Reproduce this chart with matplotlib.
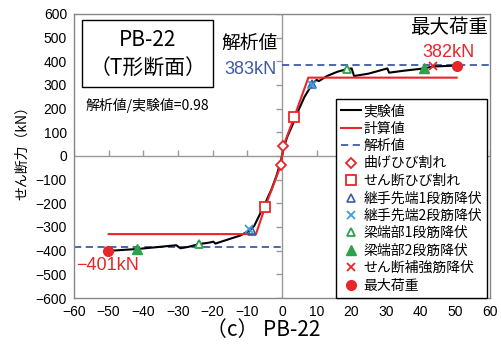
import numpy as np
import matplotlib
matplotlib.use("Agg")
import matplotlib.pyplot as plt
from matplotlib.patches import Rectangle

plt.rcParams['font.family'] = ['Noto Sans CJK JP', 'DejaVu Sans']

exp_x = [-50.3, -46, -41.8, -36, -30.5, -29.3, -27, -23.9, -21, -19.8, -19.2, -15, -12,
         -9.4, -8, -6.5, -5, -3, -1.5, -0.5, 0, 0.5, 1.5, 3, 4.5, 6.5, 8.7, 10, 10.6,
         13, 16, 18.7, 20.1, 20.8, 25, 30.4, 30.9, 35, 41, 43.5, 50.4]
exp_y = [-401, -397, -393, -385, -377, -390, -384, -372, -366, -362, -370, -350, -336,
         -315, -295, -250, -205, -140, -80, -30, 0, 35, 80, 130, 185, 250, 303, 322, 316,
         338, 356, 367, 370, 338, 348, 370, 352, 360, 370, 378, 382]

# calculated curve
calc_x = [-50, -7.5, -4.9, -0.3, 0.4, 3.5, 7.6, 50.4]
calc_y = [-330, -330, -217, -38, 42, 163, 331, 331]

# analysis value
ana_val = 383

# event markers
flex_x, flex_y = [-0.3, 0.4], [-38, 42]
shear_x, shear_y = [-4.9, 3.5], [-217, 163]
joint1_x, joint1_y = [-8.7, 8.8], [-317, 305]
joint2_x, joint2_y = [-9.4, 8.6], [-308, 300]
beam1_x, beam1_y = [-23.9, 18.7], [-372, 367]
beam2_x, beam2_y = [-41.8, 41], [-393, 370]
stir_x, stir_y = [43.5], [381]
max_x, max_y = [-50.3, 50.4], [-401, 382]

xticks = np.arange(-60, 61, 10)
yticks = np.arange(-600, 601, 100)

red = '#e8262a'
blue = '#3f5aa8'
lblue = '#3aa0e0'
green = '#2ca24a'

fig = plt.figure(figsize=(5.02, 3.47), dpi=100)
ax = fig.add_axes([0.1474, 0.1412, 0.8286, 0.8185])

# zero axes with tick marks
ax.axhline(0, color='#999999', lw=1, zorder=1)
ax.axvline(0, color='#999999', lw=1, zorder=1)
ax.plot(xticks, np.zeros_like(xticks), ls='none', marker=2, ms=4, mew=1, color='#999999', zorder=1)
ax.plot(np.zeros_like(yticks), yticks, ls='none', marker=0, ms=4, mew=1, color='#999999', zorder=1)

ax.plot(exp_x, exp_y, color='black', lw=1.5, label='実験値', zorder=3)
ax.plot(calc_x, calc_y, color=red, lw=1.5, label='計算値', zorder=3)
ax.plot([0, 60], [ana_val, ana_val], color=blue, lw=1.3, ls=(0, (4, 2.5)), label='解析値', zorder=2)
ax.plot([-60, 0], [-ana_val, -ana_val], color=blue, lw=1.3, ls=(0, (4, 2.5)), zorder=2)

ax.plot(flex_x, flex_y, ls='none', marker='D', ms=5, mfc='white', mec=red, mew=1.3, label='曲げひび割れ', zorder=4)
ax.plot(shear_x, shear_y, ls='none', marker='s', ms=7, mfc='white', mec=red, mew=1.3, label='せん断ひび割れ', zorder=4)
ax.plot(joint1_x, joint1_y, ls='none', marker='^', ms=6, mfc='none', mec=blue, mew=1.2, label='継手先端1段筋降伏', zorder=4)
ax.plot(joint2_x, joint2_y, ls='none', marker='x', ms=6, mec=lblue, mew=1.3, label='継手先端2段筋降伏', zorder=4)
ax.plot(beam1_x, beam1_y, ls='none', marker='^', ms=6, mfc='white', mec=green, mew=1.3, label='梁端部1段筋降伏', zorder=4)
ax.plot(beam2_x, beam2_y, ls='none', marker='^', ms=7, color=green, label='梁端部2段筋降伏', zorder=4)
ax.plot(stir_x, stir_y, ls='none', marker='x', ms=6, mec=red, mew=1.3, label='せん断補強筋降伏', zorder=4)
ax.plot(max_x, max_y, ls='none', marker='o', ms=7, color=red, label='最大荷重', zorder=4)

ax.set_xlim(-60, 60)
ax.set_ylim(-600, 600)
ax.set_xticks(xticks)
ax.set_yticks(yticks)
ax.tick_params(length=0, labelsize=10, pad=5)
for lab in ax.get_xticklabels() + ax.get_yticklabels():
    lab.set_family('Liberation Sans')
for sp in ax.spines.values():
    sp.set_color('#888888')
    sp.set_linewidth(1)

leg = ax.legend(loc='upper right', bbox_to_anchor=(0.993, 0.70), borderaxespad=0,
                fontsize=10, frameon=True, fancybox=False, framealpha=1,
                edgecolor='black', handlelength=1.4, handletextpad=0.2,
                labelspacing=0.25, borderpad=0.35)
leg.get_frame().set_linewidth(1)

# annotation box
ax.add_patch(Rectangle((-57.7, 291.5), 37.8, 283.5, fc='white', ec='black', lw=1, zorder=5))
ax.text(-38.8, 490, 'PB-22', ha='center', va='center', fontsize=15, zorder=6)
ax.text(-38.8, 368, '（T形断面）', ha='center', va='center', fontsize=15, zorder=6)
ax.text(-56.8, 215, '解析値/実験値=0.98', ha='left', va='center', fontsize=10)

ax.text(-9.5, 477, '解析値', ha='center', va='center', fontsize=13.5)
ax.text(-9.2, 365, '383kN', ha='center', va='center', fontsize=13, color=blue, family='Liberation Sans')
ax.text(48.2, 545, '最大荷重', ha='center', va='center', fontsize=14)
ax.text(48, 437, '382kN', ha='center', va='center', fontsize=13, color=red, family='Liberation Sans')
ax.text(-50.3, -463, '−401kN', ha='center', va='center', fontsize=13, color=red, family='Liberation Sans')

fig.text(22 / 502, 1 - 150 / 347, 'せん断力（kN）', rotation=90, ha='center', va='center', fontsize=10)
fig.text(263 / 502, 1 - 330 / 347, '（c） PB-22', ha='center', va='center', fontsize=15)

fig.savefig('out.png', dpi=100)
